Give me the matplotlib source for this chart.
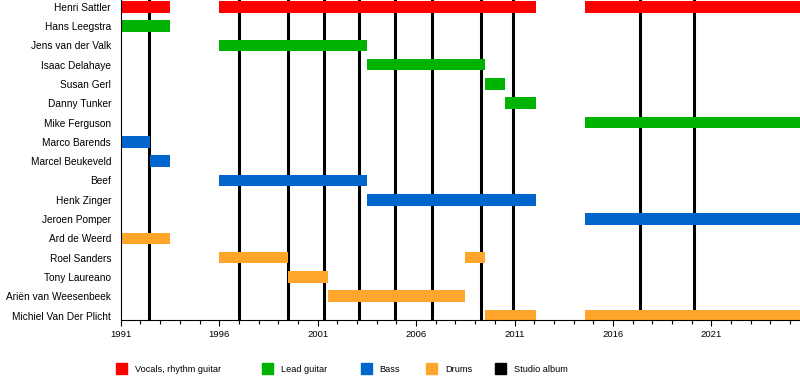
import matplotlib.pyplot as plt
from matplotlib.patches import Rectangle
from matplotlib.ticker import FixedLocator

plt.rcParams['font.family'] = ['Liberation Sans', 'DejaVu Sans']

members = ["Henri Sattler", "Hans Leegstra", "Jens van der Valk", "Isaac Delahaye",
           "Susan Gerl", "Danny Tunker", "Mike Ferguson", "Marco Barends",
           "Marcel Beukeveld", "Beef", "Henk Zinger", "Jeroen Pomper",
           "Ard de Weerd", "Roel Sanders", "Tony Laureano", "Ariën van Weesenbeek",
           "Michiel Van Der Plicht"]

now = 2025.5

# one entry per bar
bar_member = ["Henri Sattler", "Henri Sattler", "Henri Sattler",
              "Hans Leegstra", "Jens van der Valk", "Isaac Delahaye",
              "Susan Gerl", "Danny Tunker", "Mike Ferguson",
              "Marco Barends", "Marcel Beukeveld", "Beef", "Henk Zinger",
              "Jeroen Pomper", "Ard de Weerd", "Roel Sanders", "Roel Sanders",
              "Tony Laureano", "Ariën van Weesenbeek",
              "Michiel Van Der Plicht", "Michiel Van Der Plicht"]
bar_role = ["vocals", "vocals", "vocals",
            "lead", "lead", "lead", "lead", "lead", "lead",
            "bass", "bass", "bass", "bass", "bass",
            "drums", "drums", "drums", "drums", "drums", "drums", "drums"]
bar_start = [1991, 1996, 2014.6,
             1991, 1996, 2003.5, 2009.5, 2010.5, 2014.6,
             1991, 1992.5, 1996, 2003.5, 2014.6,
             1991, 1996, 2008.5, 1999.5, 2001.5, 2009.5, 2014.6]
bar_end = [1993.5, 2012.1, now,
           1993.5, 2003.5, 2009.5, 2010.5, 2012.1, now,
           1992.5, 1993.5, 2003.5, 2012.1, now,
           1993.5, 1999.5, 2009.5, 2001.5, 2008.5, 2012.1, now]

albums = [1992.45, 1997.0, 1999.5, 2001.3, 2003.1, 2004.95, 2006.8,
          2009.3, 2010.9, 2017.35, 2020.1]

year_ticks = [1991, 1996, 2001, 2006, 2011, 2016, 2021]

roles = ["vocals", "lead", "bass", "drums"]
role_labels = ["Vocals, rhythm guitar", "Lead guitar", "Bass", "Drums"]
role_colors = {"vocals": "#ff0000", "lead": "#00b300",
               "bass": "#0066cc", "drums": "#ffa52c"}

fig = plt.figure(figsize=(8, 3.8), dpi=100)
ax = fig.add_axes([0.151, 0.158, 0.849, 0.842])

for a in albums:
    ax.axvline(a, color="black", lw=2.2, zorder=1)

for m, r, s, e in zip(bar_member, bar_role, bar_start, bar_end):
    ax.barh(members.index(m), e - s, left=s, height=0.6,
            color=role_colors[r], zorder=2)

ax.set_xlim(1991, now)
ax.set_ylim(16.23, -0.35)
ax.set_yticks(range(len(members)))
ax.set_yticklabels(members, fontsize=7.3)
ax.tick_params(axis="y", length=0, pad=7)
ax.xaxis.set_major_locator(FixedLocator(year_ticks))
ax.xaxis.set_minor_locator(FixedLocator(range(1991, 2026)))
ax.tick_params(axis="x", which="major", length=4, width=0.8, labelsize=6.8, pad=3)
ax.tick_params(axis="x", which="minor", length=3, width=0.8)
for side in ["top", "right"]:
    ax.spines[side].set_visible(False)
ax.spines["left"].set_linewidth(0.8)
ax.spines["bottom"].set_linewidth(0.8)

# legend drawn by hand to match the layout
leg_x = [0.145, 0.328, 0.451, 0.533, 0.619]
leg_labels = role_labels + ["Studio album"]
leg_colors = [role_colors[r] for r in roles] + ["black"]
for x, lab, c in zip(leg_x, leg_labels, leg_colors):
    fig.patches.append(Rectangle((x, 0.016), 0.0135, 0.029, transform=fig.transFigure,
                                 color=c))
    fig.text(x + 0.0235, 0.028, lab, fontsize=6.6, va="center", ha="left")

fig.savefig("out.png", dpi=100)
